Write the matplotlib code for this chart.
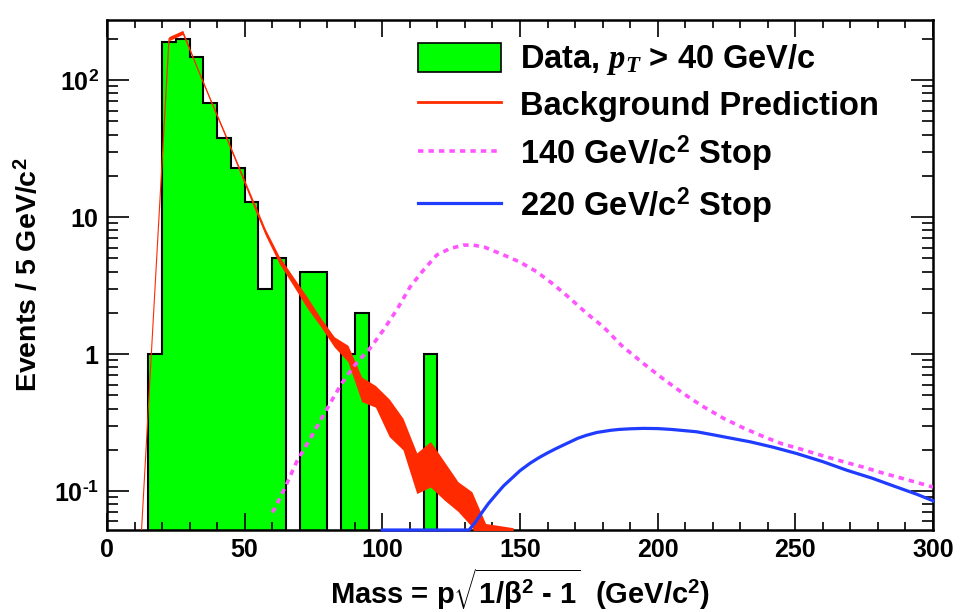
import numpy as np
import matplotlib
matplotlib.use('Agg')
import matplotlib.pyplot as plt
import matplotlib.ticker as mticker
from matplotlib.patches import Patch
from matplotlib.lines import Line2D

plt.rcParams['font.family'] = ['Liberation Sans', 'DejaVu Sans']
plt.rcParams['font.weight'] = 'bold'
plt.rcParams['mathtext.fontset'] = 'custom'
plt.rcParams['mathtext.rm'] = 'Liberation Sans:bold'
plt.rcParams['mathtext.bf'] = 'Liberation Sans:bold'
plt.rcParams['mathtext.it'] = 'Liberation Serif:italic'
plt.rcParams['mathtext.sf'] = 'Liberation Sans:bold'

# data histogram, 5 GeV bins from 0 to 300
bin_edges = np.arange(0, 305, 5)
data_bins = {15: 1, 20: 190, 25: 201, 30: 147, 35: 68, 40: 38, 45: 23, 50: 13,
             55: 3, 60: 5, 70: 4, 75: 4, 85: 1, 90: 2, 115: 1}
counts = np.array([data_bins.get(int(e), 0) for e in bin_edges[:-1]], dtype=float)

# background prediction band (bin centres)
bkg_x = [12.5, 17.5, 22.5, 27.5, 32.5, 37.5, 42.5, 47.5, 52.5, 57.5, 62.5, 67.5,
         72.5, 77.5, 82.5, 87.5, 92.5, 97.5, 102.5, 107.5, 112.5, 117.5, 122.5,
         127.5, 132.5, 137.5, 142.5, 147.5]
bkg_lo = [0.05, 3.2, 194, 216, 125, 71, 41, 23.3, 13.0, 7.4, 4.6, 3.2,
          2.2, 1.6, 1.13, 0.88, 0.45, 0.41, 0.25, 0.20, 0.096, 0.107, 0.086,
          0.071, 0.055, 0.03, 0.03, 0.03]
bkg_hi = [0.05, 3.2, 208, 231, 129, 74, 43, 24.7, 14.2, 8.2, 5.2, 3.7,
          2.65, 1.85, 1.34, 1.16, 0.68, 0.59, 0.47, 0.34, 0.19, 0.23, 0.164,
          0.117, 0.099, 0.058, 0.056, 0.054]

# 140 GeV/c^2 stop
stop140_x = [60, 61, 65, 68.9, 74.9, 81, 85, 89.5, 95.5, 100.4, 105.2, 110.1, 114.9,
             119.8, 124.6, 129.4, 133, 137, 144, 150, 156, 162, 168.2, 174, 180.3,
             187, 194.8, 202, 209.3, 216, 223.9, 231, 238.4, 245, 252.9, 260, 267.4,
             275, 282, 290, 300]
stop140_y = [0.07, 0.075, 0.11, 0.164, 0.264, 0.436, 0.6, 0.81, 1.1, 1.5, 2.1, 3.1, 4.1,
             5.3, 5.9, 6.25, 6.25, 6.05, 5.3, 4.7, 4.0, 3.25, 2.55, 2.0, 1.58,
             1.15, 0.855, 0.66, 0.516, 0.42, 0.34, 0.29, 0.25, 0.222, 0.20, 0.181, 0.164,
             0.149, 0.135, 0.122, 0.107]

# 220 GeV/c^2 stop
stop220_x = [100, 131.5, 134, 136, 138.5, 141.6, 144, 147, 150, 153.7, 157, 160, 163,
             165.8, 171, 174, 177.9, 183, 186, 190, 194.8, 200, 205, 210, 214.2,
             220, 224, 233.6, 242, 250.5, 260, 268.7, 278, 286.8, 294, 300]
stop220_y = [0.052, 0.052, 0.06, 0.069, 0.081, 0.096, 0.109, 0.124, 0.141, 0.16, 0.176,
             0.19, 0.204, 0.217, 0.243, 0.255, 0.268, 0.278, 0.282, 0.285, 0.287, 0.286,
             0.282, 0.276, 0.271, 0.258, 0.249, 0.229, 0.209, 0.188, 0.164, 0.142, 0.124,
             0.107, 0.095, 0.085]

fig = plt.figure(figsize=(9.6, 6.12), dpi=100)
ax = fig.add_axes([107 / 960, 1 - 530 / 612, 826 / 960, 510 / 612])
ax.set_yscale('log')

ax.stairs(counts, bin_edges, baseline=0, fill=True, color='#00ff00', zorder=1)
ax.stairs(counts, bin_edges, baseline=0, color='black', linewidth=1.5, zorder=2)

ax.fill_between(bkg_x, bkg_lo, bkg_hi, color='#ff2a00', linewidth=0, zorder=3)
ax.plot(bkg_x, np.sqrt(np.array(bkg_lo) * np.array(bkg_hi)), color='#ff2a00',
        linewidth=0.8, zorder=3)

ax.plot(stop140_x, stop140_y, color='#ff55ff', linewidth=2.6,
        linestyle=(0, (1.5, 1.4)), zorder=4)
ax.plot(stop220_x, stop220_y, color='#1f3cff', linewidth=2.3, zorder=5, clip_on=False)

ax.set_xlim(0, 300)
ax.set_ylim(0.052, 275)

ax.xaxis.set_major_locator(mticker.MultipleLocator(50))
ax.xaxis.set_minor_locator(mticker.MultipleLocator(10))
ax.yaxis.set_major_locator(mticker.FixedLocator([0.1, 1, 10, 100]))
ax.yaxis.set_major_formatter(mticker.FixedFormatter(
    [r'10$^{\text{-1}}$', '1', '10', r'10$^{2}$']))
ax.yaxis.set_minor_locator(mticker.LogLocator(base=10, subs=np.arange(2, 10), numticks=20))
ax.yaxis.set_minor_formatter(mticker.NullFormatter())

ax.tick_params(axis='both', which='both', direction='in', top=True, right=True,
               labelsize=18, width=1.2)
ax.tick_params(axis='x', which='major', length=12, pad=6)
ax.tick_params(axis='x', which='minor', length=6)
ax.tick_params(axis='y', which='major', length=16, pad=6)
ax.tick_params(axis='y', which='minor', length=8)
for sp in ax.spines.values():
    sp.set_linewidth(1.8)

ax.set_xlabel(r'Mass = p$\sqrt{1/\mathrm{\beta}^{2}\text{ - }1}$  (GeV/c$^{2}$)',
              fontsize=21, fontweight='bold', labelpad=3)
ax.set_ylabel(r'Events / 5 GeV/c$^{2}$', fontsize=20.5, fontweight='bold', labelpad=8)

handles = [Patch(facecolor='#00ff00', edgecolor='black', linewidth=1.2),
           Line2D([], [], color='#ff2a00', linewidth=2),
           Line2D([], [], color='#ff55ff', linewidth=2.6, linestyle=(0, (1.5, 1.4))),
           Line2D([], [], color='#1f3cff', linewidth=2.3)]
labels = [r'Data, $p_{T}$ > 40 GeV/c', 'Background Prediction',
          r'140 GeV/c$^{2}$ Stop', r'220 GeV/c$^{2}$ Stop']
ax.legend(handles, labels, loc='upper left', bbox_to_anchor=(0.376, 0.956),
          frameon=False, fontsize=23.5, handlelength=2.55, handleheight=1.0,
          handletextpad=0.6, labelspacing=0.36, borderpad=0, borderaxespad=0)

fig.savefig('out.png', dpi=100)
